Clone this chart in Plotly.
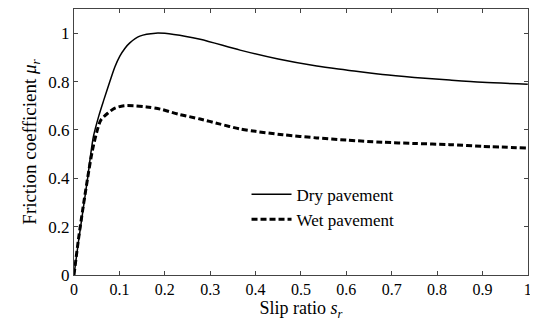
import plotly.graph_objects as go

s_dry = [0, 0.01, 0.02, 0.03, 0.0425, 0.055, 0.065, 0.079, 0.09, 0.101, 0.112, 0.123, 0.145, 0.18, 0.22,
         0.278, 0.366, 0.45, 0.535, 0.6, 0.68, 0.75, 0.828, 0.9, 1.0]
mu_dry = [0, 0.14, 0.27, 0.40, 0.57, 0.66, 0.72, 0.80, 0.86, 0.905, 0.937, 0.96, 0.988, 1.0, 0.995,
          0.975, 0.93, 0.893, 0.864, 0.848, 0.829, 0.817, 0.806, 0.797, 0.789]

s_wet = [0, 0.01, 0.02, 0.03, 0.04, 0.05, 0.059, 0.075, 0.09, 0.11, 0.131, 0.16, 0.19, 0.23,
         0.278, 0.32, 0.366, 0.4, 0.46, 0.535, 0.6, 0.68, 0.75, 0.828, 0.9, 1.0]
mu_wet = [0, 0.15, 0.28, 0.40, 0.51, 0.59, 0.64, 0.67, 0.69, 0.70, 0.70, 0.695, 0.686, 0.665,
          0.645, 0.625, 0.604, 0.594, 0.58, 0.567, 0.558, 0.549, 0.544, 0.539, 0.532, 0.525]

x_ticks = [0, 0.1, 0.2, 0.3, 0.4, 0.5, 0.6, 0.7, 0.8, 0.9, 1]
x_labels = ["0", "0.1", "0.2", "0.3", "0.4", "0.5", "0.6", "0.7", "0.8", "0.9", "1"]
y_ticks = [0, 0.2, 0.4, 0.6, 0.8, 1]
y_labels = ["0", "0.2", "0.4", "0.6", "0.8", "1"]

FONT = "Times New Roman, Liberation Serif, serif"

fig = go.Figure()
fig.add_trace(go.Scatter(x=s_dry, y=mu_dry, mode="lines", name="Dry pavement",
                         line=dict(color="black", width=1.5, shape="spline", smoothing=0.8)))
fig.add_trace(go.Scatter(x=s_wet, y=mu_wet, mode="lines", name="Wet pavement",
                         line=dict(color="black", width=3, dash="6px,3px", shape="spline", smoothing=0.8)))

axis_common = dict(showline=True, linecolor="#444", linewidth=1, mirror="ticks",
                   ticks="inside", ticklen=4, tickcolor="#444", showgrid=False, zeroline=False)

fig.update_layout(
    width=530, height=317,
    margin=dict(l=66, r=10, t=1, b=50, autoexpand=False),
    paper_bgcolor="white", plot_bgcolor="white",
    font=dict(family=FONT, color="black"),
    xaxis=dict(range=[0, 1.0005], tickvals=x_ticks, ticktext=x_labels,
               tickfont=dict(family=FONT, size=16, color="black"),
               title=dict(text="Slip ratio <i>s<sub>r</sub></i>", font=dict(family=FONT, size=18), standoff=3),
               **axis_common),
    yaxis=dict(range=[0, 1.1], tickvals=y_ticks, ticktext=y_labels,
               tickfont=dict(family=FONT, size=17, color="black"),
               title=dict(text="Friction coefficient <i>μ<sub>r</sub></i>", font=dict(family=FONT, size=19), standoff=6),
               **axis_common),
    legend=dict(x=0.38, y=0.37, xanchor="left", yanchor="top", bgcolor="rgba(0,0,0,0)",
                font=dict(family=FONT, size=17), itemwidth=40),
    showlegend=True,
)

fig.write_html("out.html")
